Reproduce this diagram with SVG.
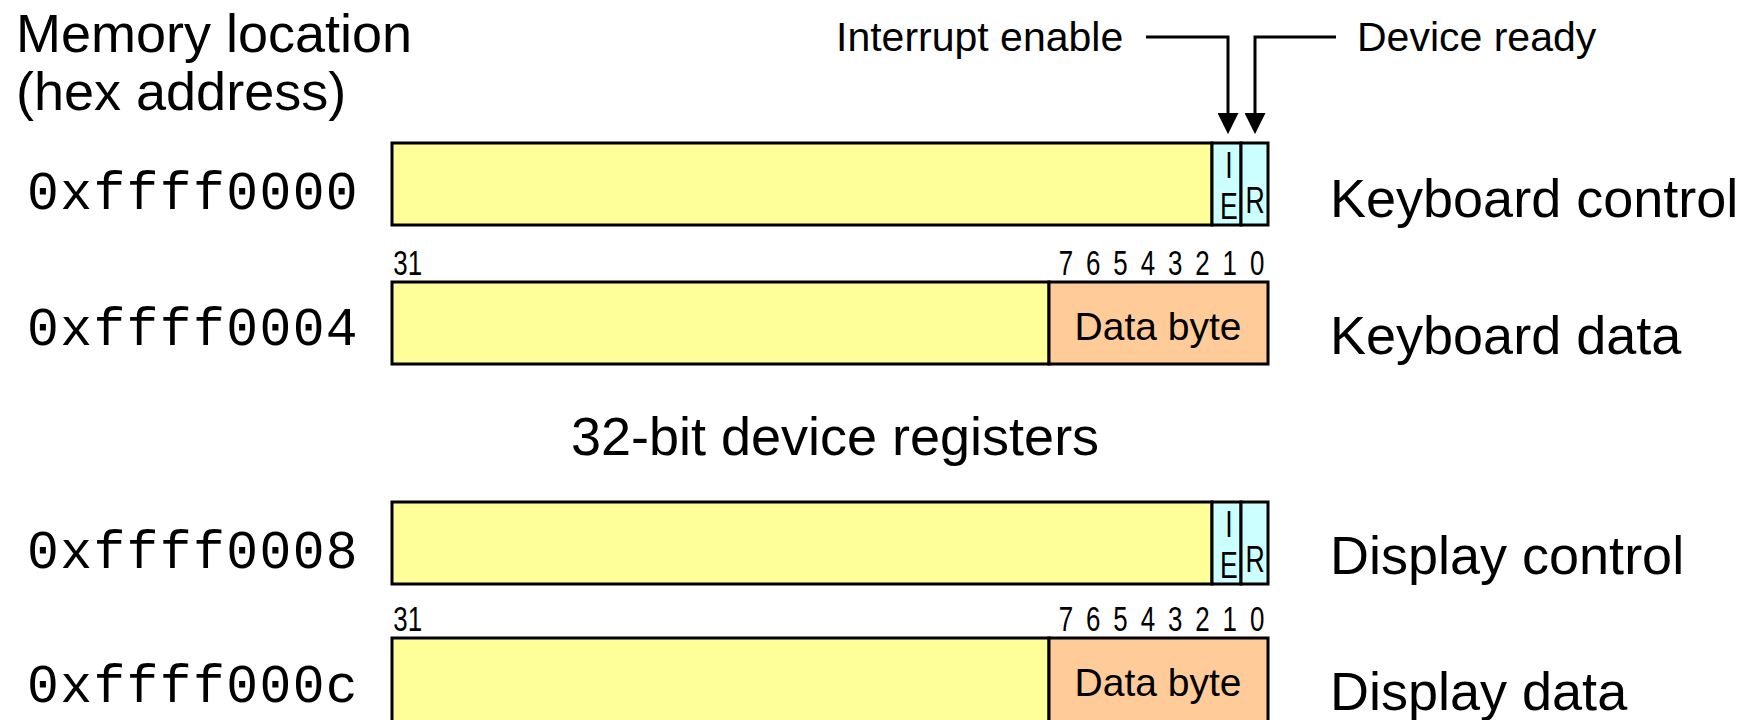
<svg xmlns="http://www.w3.org/2000/svg" width="1748" height="720" viewBox="0 0 1748 720">
<defs>
<style>
.t{font-family:"Liberation Sans",Arial,sans-serif;fill:#000}
.big{font-size:54px}
.mid{font-size:41px}
.mono{font-family:"Liberation Mono","Courier New",monospace;font-size:53px;letter-spacing:1.4px;fill:#000}
.bit{font-family:"Liberation Sans",Arial,sans-serif;font-size:35px;fill:#000;text-anchor:middle}
.cell{font-family:"Liberation Sans",Arial,sans-serif;font-size:37px;fill:#000;text-anchor:middle}
.box{stroke:#000;stroke-width:3}
.y{fill:#FFFF99}
.c{fill:#CCFFFF}
.o{fill:#FFCC99}
.ln{fill:none;stroke:#000;stroke-width:3}
</style>
<marker id="ah" markerWidth="7" markerHeight="7" refX="0.3" refY="3.5" orient="auto" markerUnits="strokeWidth">
<path d="M0,0 L7,3.5 L0,7 Z" fill="#000"/>
</marker>
</defs>
<rect width="1748" height="720" fill="#fff"/>

<g id="header">
<text class="t big" x="16" y="52">Memory location</text>
<text class="t big" x="16" y="110">(hex address)</text>
<text class="t mid" x="836" y="51">Interrupt enable</text>
<text class="t mid" x="1357" y="51">Device ready</text>
<text class="t big" x="835" y="455" text-anchor="middle">32-bit device registers</text>
</g>

<g id="connectors">
<path class="ln" d="M1146,37 H1228 V114" marker-end="url(#ah)"/>
<path class="ln" d="M1336,37 H1255 V114" marker-end="url(#ah)"/>
</g>

<g id="kbd-control">
<text class="mono" x="27" y="209">0xffff0000</text>
<rect class="box y" x="392" y="143" width="820" height="82"/>
<rect class="box c" x="1212" y="143" width="29" height="82"/>
<rect class="box c" x="1241" y="143" width="27" height="82"/>
<g transform="translate(1229,178) scale(0.72,1)"><text class="cell" x="0" y="0">I</text></g>
<g transform="translate(1229,219) scale(0.72,1)"><text class="cell" x="0" y="0">E</text></g>
<g transform="translate(1255,213) scale(0.72,1)"><text class="cell" x="0" y="0">R</text></g>
<text class="t big" x="1330" y="217">Keyboard control</text>
</g>

<g id="kbd-data">
<text class="mono" x="27" y="345">0xffff0004</text>
<rect class="box y" x="392" y="282" width="657" height="82"/>
<rect class="box o" x="1049" y="282" width="219" height="82"/>
<text class="t" x="1158" y="340" font-size="39" text-anchor="middle">Data byte</text>
<g transform="translate(0,275) scale(0.74,1)">
<text class="bit" x="551">31</text>
<text class="bit" x="1440.5">7</text>
<text class="bit" x="1477.4">6</text>
<text class="bit" x="1514.3">5</text>
<text class="bit" x="1551.2">4</text>
<text class="bit" x="1588.1">3</text>
<text class="bit" x="1625">2</text>
<text class="bit" x="1661.9">1</text>
<text class="bit" x="1698.8">0</text>
</g>
<text class="t big" x="1330" y="354">Keyboard data</text>
</g>

<g id="disp-control">
<text class="mono" x="27" y="568">0xffff0008</text>
<rect class="box y" x="392" y="502" width="820" height="82"/>
<rect class="box c" x="1212" y="502" width="29" height="82"/>
<rect class="box c" x="1241" y="502" width="27" height="82"/>
<g transform="translate(1229,537) scale(0.72,1)"><text class="cell" x="0" y="0">I</text></g>
<g transform="translate(1229,578) scale(0.72,1)"><text class="cell" x="0" y="0">E</text></g>
<g transform="translate(1255,572) scale(0.72,1)"><text class="cell" x="0" y="0">R</text></g>
<text class="t big" x="1330" y="574">Display control</text>
</g>

<g id="disp-data">
<text class="mono" x="27" y="702">0xffff000c</text>
<rect class="box y" x="392" y="638" width="657" height="90"/>
<rect class="box o" x="1049" y="638" width="219" height="90"/>
<text class="t" x="1158" y="696" font-size="39" text-anchor="middle">Data byte</text>
<g transform="translate(0,631) scale(0.74,1)">
<text class="bit" x="551">31</text>
<text class="bit" x="1440.5">7</text>
<text class="bit" x="1477.4">6</text>
<text class="bit" x="1514.3">5</text>
<text class="bit" x="1551.2">4</text>
<text class="bit" x="1588.1">3</text>
<text class="bit" x="1625">2</text>
<text class="bit" x="1661.9">1</text>
<text class="bit" x="1698.8">0</text>
</g>
<text class="t big" x="1330" y="710">Display data</text>
</g>
</svg>
